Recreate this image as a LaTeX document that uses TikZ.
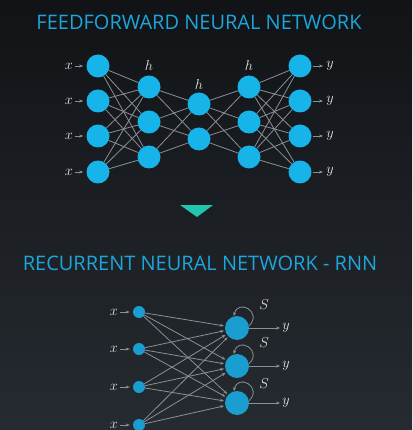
\documentclass[tikz,border=0pt]{standalone}
\usepackage{fontspec}
\setsansfont{Open Sans}
\usepackage{tikz}
\usetikzlibrary{positioning,arrows.meta,calc}
\definecolor{bgtop}{HTML}{111316}
\definecolor{bgbot}{HTML}{262B31}
\definecolor{titleblue}{HTML}{1CA6DC}
\definecolor{nodeblue}{HTML}{16B4E8}
\definecolor{rnnblue}{HTML}{1A9ED0}
\definecolor{wiregray}{HTML}{8A9098}
\definecolor{labelgray}{HTML}{E2E4E6}
\definecolor{teal}{HTML}{1FC6B0}

\begin{document}
\begin{tikzpicture}[x=1pt,y=1pt,
  neuron/.style={circle,fill=nodeblue,inner sep=0pt,minimum size=23pt},
  rnnin/.style={circle,fill=rnnblue,inner sep=0pt,minimum size=12pt},
  rnnout/.style={circle,fill=rnnblue,inner sep=0pt,minimum size=24pt},
  wire/.style={draw=wiregray,line width=0.8pt},
  arrwire/.style={wire,-{Stealth[length=4pt,width=3pt]},shorten >=1pt},
  tag/.style={text=labelgray,font=\fontsize{14}{16}\selectfont,inner sep=1pt},
  heading/.style={text=titleblue,font=\sffamily\fontsize{20}{24}\selectfont}]
\shade[top color=bgtop,bottom color=bgbot] (0,0) rectangle (412,-430);
\useasboundingbox (0,0) rectangle (412,-430);
% feedforward network
\node[heading] (fftitle) at (199,-22) {FEEDFORWARD NEURAL NETWORK};
\foreach \i/\y in {1/66,2/101,3/136,4/172}{
  \node[neuron] (a\i) at (98,-\y) {};
  \node[neuron] (e\i) at (300,-\y) {};
  \node[tag] (xa\i) at (69,-\y) {$x$};
  \node[tag] (ye\i) at (330,-\y) {$y$};
  \draw[wire,-{Stealth[length=4pt,width=3pt]},shorten >=3pt,shorten <=1pt] (xa\i) -- (a\i);
  \draw[wire,-{Stealth[length=4pt,width=3pt]},shorten >=2pt,shorten <=1pt] (e\i) -- (ye\i);
}
\foreach \i/\y in {1/87,2/122,3/157}{
  \node[neuron] (b\i) at (149,-\y) {};
  \node[neuron] (d\i) at (249,-\y) {};
}
\foreach \i/\y in {1/104,2/139}
  \node[neuron] (c\i) at (199,-\y) {};
\node[tag] (hb) at (149,-66) {$h$};
\node[tag] (hc) at (199,-85) {$h$};
\node[tag] (hd) at (249,-66) {$h$};
\foreach \i in {1,...,4}
  \foreach \j in {1,2,3}{
    \draw[wire] (a\i) -- (b\j);
    \draw[wire] (d\j) -- (e\i);
  }
\foreach \i in {1,2,3}
  \foreach \j in {1,2}{
    \draw[wire] (b\i) -- (c\j);
    \draw[wire] (c\j) -- (d\i);
  }
% arrow down
\fill[teal] (180,-205) -- (213,-205) -- (197,-217) -- cycle;
% recurrent network
\node[heading] (rnntitle) at (200,-263) {RECURRENT NEURAL NETWORK - RNN};
\foreach \i/\y in {1/312,2/349,3/387,4/425}{
  \node[rnnin] (p\i) at (139,-\y) {};
  \node[tag] (xp\i) at (114,-\y) {$x$};
  \draw[wire,-{Stealth[length=4pt,width=3pt]},shorten >=3pt,shorten <=1pt] (xp\i) -- (p\i);
}
\foreach \i/\y/\s in {1/328/305,2/366/343,3/403/384}{
  \node[rnnout] (q\i) at (237,-\y) {};
  \node[tag] (yq\i) at (286,-\y) {$y$};
  \node[tag] (sq\i) at (264,-\s) {$S$};
  \draw[arrwire] (q\i) -- (yq\i);
  \draw[arrwire,shorten >=0pt] (q\i.10) .. controls +(14,14) and +(4,18) .. (q\i.105);
}
\foreach \i in {1,...,4}
  \foreach \j in {1,2,3}
    \draw[arrwire] (p\i) -- (q\j);
\end{tikzpicture}
\end{document}
